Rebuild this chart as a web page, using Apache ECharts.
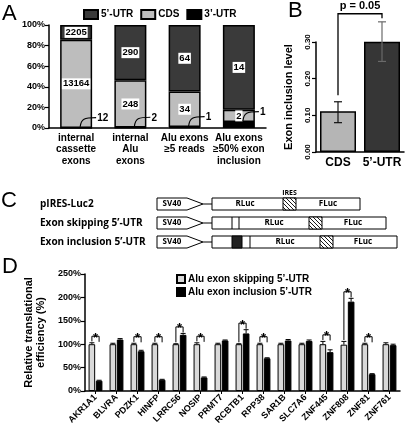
<!DOCTYPE html>
<html><head><meta charset="utf-8">
<script src="https://cdn.jsdelivr.net/npm/echarts@6/dist/echarts.min.js"></script>
<style>html,body{margin:0;padding:0;background:#fff}#c{width:408px;height:430px}</style>
</head><body><div id="c"></div>
<script>
// ---------- Panel A data ----------
const aCategories = ['internal\ncassette\nexons', 'internal\nAlu\nexons', 'Alu exons\n\u22655 reads', 'Alu exons\n\u226550% exon\ninclusion'];
const aUtr5 = [2205, 290, 64, 14];
const aCds = [13164, 248, 34, 2];
const aUtr3 = [12, 2, 1, 1];

// ---------- Panel B data ----------
const bCategories = ['CDS', "5\u2019-UTR"];
const bValues = [0.111, 0.301];
const bErrLow = [0.080, 0.247];
const bErrHigh = [0.137, 0.355];
const bPLabel = 'p = 0.05';

// ---------- Panel D data ----------
const dGenes = ['AKR1A1','BLVRA','PDZK1','HINFP','LRRC56','NOSIP','PRMT7','RCBTB1','RPP38','SAR1B','SLC7A6','ZNF445','ZNF808','ZNF81','ZNF761'];
const dSkip = [100,100,100,100,100,100,100,100,100,100,100,100,99,100,100];
const dSkipErr = [3,2,2,2,1,3,2,1,2,2,2,6,7,2,3];
const dIncl = [22,110,85,24,120,29,108,123,70,108,107,83,191,36,98];
const dInclErr = [1,2,2,1,3,1,1,8,1,2,2,5,7,1,2];
const dSig = [1,0,1,1,1,1,0,1,1,0,0,1,1,1,0];

// ---------- derived ----------
const aTotal = aUtr5.map((v, i) => v + aCds[i] + aUtr3[i]);
const pct = arr => arr.map((v, i) => v / aTotal[i] * 100);
const aP5 = pct(aUtr5), aPC = pct(aCds), aP3 = pct(aUtr3);

const FONT = '"Liberation Sans", Arial, sans-serif';
const BLACK = '#000';
const D_OFF = 3.6;

const lblBox = {
  show: true, position: 'inside', color: '#000', fontWeight: 'bold', fontSize: 9.5,
  fontFamily: FONT, backgroundColor: '#fff', padding: [1, 1, 0, 1]
};

// hatch pattern
const hatch = document.createElement('canvas');
hatch.width = 4; hatch.height = 4;
(function () {
  const g = hatch.getContext('2d');
  g.fillStyle = '#fff'; g.fillRect(0, 0, 4, 4);
  g.strokeStyle = '#000'; g.lineWidth = 0.9;
  g.beginPath();
  g.moveTo(-1, -1); g.lineTo(5, 5);
  g.moveTo(-1, 3); g.lineTo(1, 5);
  g.moveTo(3, -1); g.lineTo(5, 1);
  g.stroke();
})();

// ---------- Panel C schematic (graphic) ----------
const cFont = 'bold 10px "Open Sans", sans-serif';
function sv40(r) {
  return [
    { type: 'polygon', shape: { points: [[157, r - 6], [187, r - 6], [203, r], [187, r + 6], [157, r + 6]] },
      style: { fill: '#fff', stroke: '#000', lineWidth: 1 } },
    { type: 'text', style: { text: 'SV40', x: 172, y: r, align: 'center', verticalAlign: 'middle', font: 'bold 8px "Open Sans", sans-serif', fill: '#000' } },
    { type: 'line', shape: { x1: 203, y1: r, x2: 212, y2: r }, style: { stroke: '#000', lineWidth: 1 } }
  ];
}
function box(r, x1, x2) {
  return { type: 'rect', shape: { x: x1, y: r - 6, width: x2 - x1, height: 12 }, style: { fill: '#fff', stroke: '#000', lineWidth: 1 } };
}
function vline(r, x) {
  return { type: 'line', shape: { x1: x, y1: r - 6, x2: x, y2: r + 6 }, style: { stroke: '#000', lineWidth: 1 } };
}
function hat(r, x1, x2) {
  return { type: 'rect', shape: { x: x1, y: r - 6, width: x2 - x1, height: 12 }, style: { fill: { image: hatch, repeat: 'repeat' }, stroke: '#000', lineWidth: 1 } };
}
function lbl(r, x, t) {
  return { type: 'text', style: { text: t, x: x, y: r, align: 'center', verticalAlign: 'middle', font: 'bold 8px "Open Sans", sans-serif', fill: '#000' } };
}
function rowText(r, t) {
  return { type: 'text', style: { text: t, x: 40, y: r, align: 'left', verticalAlign: 'middle', font: cFont, fill: '#000' } };
}
const r1 = 204, r2 = 223, r3 = 242;
const cGraphic = [].concat(
  rowText(r1, 'pIRES-Luc2'), rowText(r2, 'Exon skipping 5\u2019-UTR'), rowText(r3, 'Exon inclusion 5\u2019-UTR'),
  sv40(r1), sv40(r2), sv40(r3),
  box(r1, 212, 360), hat(r1, 283, 296), lbl(r1, 245, 'RLuc'), lbl(r1, 328, 'FLuc'),
  { type: 'text', style: { text: 'IRES', x: 289.5, y: 196, align: 'center', verticalAlign: 'bottom', font: 'bold 7px "Open Sans", sans-serif', fill: '#000' } },
  box(r2, 212, 386), vline(r2, 232), vline(r2, 239), hat(r2, 309, 322), lbl(r2, 274, 'RLuc'), lbl(r2, 353, 'FLuc'),
  box(r3, 212, 397), { type: 'rect', shape: { x: 232, y: r3 - 6, width: 10, height: 12 }, style: { fill: '#222', stroke: '#000', lineWidth: 1 } },
  vline(r3, 250), hat(r3, 320, 333), lbl(r3, 285, 'RLuc'), lbl(r3, 363, 'FLuc')
);
const letters = [['A', 2, 3], ['B', 288, 0], ['C', 1, 190], ['D', 2, 256]].map(([t, x, y]) => ({
  type: 'text', style: { text: t, x: x, y: y, font: '22px "Liberation Sans", Arial, sans-serif', fill: '#000' }
}));

// ---------- Render helpers ----------
function aCallout(params, api) {
  const i = api.value(0), p = api.value(1);
  const s = api.coord([i, p]);
  const e = api.coord([i, p + 10]);
  const x0 = s[0] + 4, y0 = s[1] - 1, x1 = s[0] + 20, y1 = e[1];
  return { type: 'group', children: [
    { type: 'bezierCurve', shape: { x1: x0, y1: y0, x2: x1, y2: y1, cpx1: x0 + 1, cpy1: y1 + 1, cpx2: x0 + 4, cpy2: y1 },
      style: { stroke: '#000', lineWidth: 1.1, fill: null } },
    { type: 'text', style: { text: String(api.value(2)), x: x1 + 1, y: y1 + 0.5, verticalAlign: 'middle', font: 'bold 10px ' + FONT, fill: '#000' } }
  ] };
}
function bErr(params, api) {
  const i = api.value(0);
  const lo = api.coord([i, api.value(1)]), hi = api.coord([i, api.value(2)]);
  const x = lo[0], c = i === 0 ? '#111' : '#6a6a6a';
  return { type: 'group', children: [
    { type: 'line', shape: { x1: x, y1: lo[1], x2: x, y2: hi[1] }, style: { stroke: c, lineWidth: 1.2 } },
    { type: 'line', shape: { x1: x - 4, y1: lo[1], x2: x + 4, y2: lo[1] }, style: { stroke: c, lineWidth: 1.2 } },
    { type: 'line', shape: { x1: x - 4, y1: hi[1], x2: x + 4, y2: hi[1] }, style: { stroke: c, lineWidth: 1.2 } }
  ] };
}
function bBracket(params, api) {
  const top = Math.max(bErrHigh[0], bErrHigh[1]) + 0.022;
  const l = api.coord([0, bErrHigh[0] + 0.018]), r = api.coord([1, bErrHigh[1] + 0.01]);
  const t = api.coord([0, top])[1];
  return { type: 'group', children: [
    { type: 'polyline', shape: { points: [[l[0], l[1]], [l[0], t], [r[0], t], [r[0], r[1]]] }, style: { stroke: '#000', lineWidth: 1.3, fill: null } },
    { type: 'text', style: { text: bPLabel, x: (l[0] + r[0]) / 2, y: t - 2, align: 'center', verticalAlign: 'bottom', font: 'bold 11px ' + FONT, fill: '#000' } }
  ] };
}
function dErr(params, api) {
  const i = api.value(0), v = api.value(1), e = api.value(2), side = api.value(3);
  const b = api.coord([i, v]), t = api.coord([i, v + e]);
  const x = b[0] + side * D_OFF;
  return { type: 'group', children: [
    { type: 'line', shape: { x1: x, y1: b[1], x2: x, y2: t[1] }, style: { stroke: '#000', lineWidth: 1 } },
    { type: 'line', shape: { x1: x - 2.5, y1: t[1], x2: x + 2.5, y2: t[1] }, style: { stroke: '#000', lineWidth: 1 } }
  ] };
}
function dBracket(params, api) {
  const i = api.value(0), g = api.value(1), b = api.value(2);
  const top = Math.max(g, b) + 14;
  const xc = api.coord([i, 0])[0];
  const xl = xc - D_OFF, xr = xc + D_OFF;
  const yT = api.coord([i, top])[1], yL = api.coord([i, g + 3])[1], yR = api.coord([i, top - 12])[1];
  return { type: 'group', children: [
    { type: 'polyline', shape: { points: [[xl, yL], [xl, yT], [xr, yT], [xr, yR]] }, style: { stroke: '#000', lineWidth: 1, fill: null } },
    { type: 'text', style: { text: '*', x: xc, y: yT + 2, align: 'center', verticalAlign: 'middle', font: 'bold 13px ' + FONT, fill: '#000' } }
  ] };
}

const axisLine = { show: true, lineStyle: { color: BLACK, width: 1.5 } };
const tickStyle = { show: true, length: 4, lineStyle: { color: BLACK, width: 1.2 } };

const option = {
  animation: false,
  backgroundColor: '#fff',
  textStyle: { fontFamily: FONT },
  graphic: letters.concat(cGraphic),
  legend: [
    { data: ["5\u2019-UTR", 'CDS', "3\u2019-UTR"], left: 83, top: 9, itemWidth: 14, itemHeight: 9, itemGap: 7,
      icon: 'rect', selectedMode: false, padding: 0,
      textStyle: { fontSize: 10, fontWeight: 'bold', color: '#000', padding: [0, 0, 0, -2] } },
    { data: ["Alu exon skipping 5\u2019-UTR", "Alu exon inclusion 5\u2019-UTR"], left: 176, top: 274, orient: 'vertical',
      itemWidth: 8, itemHeight: 8, itemGap: 3, icon: 'rect', selectedMode: false, padding: 0,
      textStyle: { fontSize: 10, fontWeight: 'bold', color: '#000', padding: [0, 0, 0, -2] } }
  ],
  grid: [
    { left: 49, top: 25, width: 217, height: 103 },
    { left: 316, top: 42, width: 88, height: 110 },
    { left: 85, top: 274, width: 315, height: 117 }
  ],
  xAxis: [
    { type: 'category', gridIndex: 0, data: aCategories, axisLine: axisLine, axisTick: { show: false },
      axisLabel: { color: '#000', fontSize: 10, fontWeight: 'bold', lineHeight: 11.5, margin: 4, interval: 0 } },
    { type: 'category', gridIndex: 1, data: bCategories, axisLine: axisLine, axisTick: { show: false },
      axisLabel: { color: '#000', fontSize: 12, fontWeight: 'bold', margin: 5, interval: 0, hideOverlap: false } },
    { type: 'category', gridIndex: 2, data: dGenes, axisLine: axisLine,
      axisTick: { show: true, alignWithLabel: true, length: 3, lineStyle: { color: BLACK } },
      axisLabel: { color: '#000', fontSize: 9, fontWeight: 'bold', rotate: 45, margin: 5, interval: 0 } }
  ],
  yAxis: [
    { type: 'value', gridIndex: 0, min: 0, max: 100, interval: 20, axisLine: axisLine, axisTick: tickStyle, splitLine: { show: false },
      axisLabel: { color: '#000', fontSize: 9, fontWeight: 'bold', margin: 4, formatter: '{value}%' } },
    { type: 'value', gridIndex: 1, min: 0, max: 0.3, interval: 0.1, axisLine: axisLine, axisTick: tickStyle, splitLine: { show: false },
      axisLabel: { color: '#000', fontSize: 8, fontWeight: 'bold', margin: 4, rotate: 90, formatter: v => v.toFixed(2) },
      name: 'Exon inclusion level', nameLocation: 'middle', nameGap: 22,
      nameTextStyle: { color: '#000', fontSize: 11, fontWeight: 'bold' } },
    { type: 'value', gridIndex: 2, min: 0, max: 250, interval: 50, axisLine: axisLine, axisTick: tickStyle, splitLine: { show: false },
      axisLabel: { color: '#000', fontSize: 9, fontWeight: 'bold', margin: 4, formatter: '{value}%' },
      name: 'Relative translational\nefficiency (%)', nameLocation: 'middle', nameGap: 38,
      nameTextStyle: { color: '#000', fontSize: 11, fontWeight: 'bold', lineHeight: 12 } }
  ],
  series: [
    { name: "3\u2019-UTR", type: 'bar', stack: 'A', xAxisIndex: 0, yAxisIndex: 0, barWidth: 32, data: aP3,
      itemStyle: { color: '#000', borderColor: '#000', borderWidth: 1.5 } },
    { name: 'CDS', type: 'bar', stack: 'A', xAxisIndex: 0, yAxisIndex: 0, barWidth: 32, data: aPC,
      itemStyle: { color: '#bdbdbd', borderColor: '#000', borderWidth: 1.5 },
      label: Object.assign({}, lblBox, { formatter: p => String(aCds[p.dataIndex]) }) },
    { name: "5\u2019-UTR", type: 'bar', stack: 'A', xAxisIndex: 0, yAxisIndex: 0, barWidth: 32, data: aP5,
      itemStyle: { color: '#3a3a3a', borderColor: '#000', borderWidth: 1.5 },
      label: Object.assign({}, lblBox, { formatter: p => String(aUtr5[p.dataIndex]) }) },
    { type: 'custom', xAxisIndex: 0, yAxisIndex: 0, renderItem: aCallout, encode: { x: 0, y: 1 },
      data: aP3.map((p, i) => [i, p, aUtr3[i]]), z: 5 },

    { name: 'B', type: 'bar', xAxisIndex: 1, yAxisIndex: 1, barWidth: 36,
      data: bValues.map((v, i) => ({ value: v, itemStyle: { color: i === 0 ? '#b5b5b5' : '#363636' } })),
      itemStyle: { borderColor: '#000', borderWidth: 1.5 } },
    { type: 'custom', xAxisIndex: 1, yAxisIndex: 1, renderItem: bErr, encode: { x: 0, y: [1, 2] },
      data: bValues.map((v, i) => [i, bErrLow[i], bErrHigh[i]]), z: 5 },
    { type: 'custom', xAxisIndex: 1, yAxisIndex: 1, renderItem: bBracket, encode: { x: 0, y: 1 },
      data: [[0, 0]], z: 5 },

    { name: "Alu exon skipping 5\u2019-UTR", type: 'bar', xAxisIndex: 2, yAxisIndex: 2, barWidth: 6.6, barGap: '10%', data: dSkip,
      itemStyle: { color: '#d9d9d9', borderColor: '#000', borderWidth: 1 } },
    { name: "Alu exon inclusion 5\u2019-UTR", type: 'bar', xAxisIndex: 2, yAxisIndex: 2, barWidth: 6.6, barGap: '10%', data: dIncl,
      itemStyle: { color: '#000', borderColor: '#000', borderWidth: 1 } },
    { type: 'custom', xAxisIndex: 2, yAxisIndex: 2, renderItem: dErr, encode: { x: 0, y: 1 }, z: 5,
      data: dGenes.map((g, i) => [i, dSkip[i], dSkipErr[i], -1]).concat(dGenes.map((g, i) => [i, dIncl[i], dInclErr[i], 1])) },
    { type: 'custom', xAxisIndex: 2, yAxisIndex: 2, renderItem: dBracket, encode: { x: 0, y: 1 }, z: 5,
      data: dGenes.map((g, i) => [i, dSkip[i] + dSkipErr[i], dIncl[i] + dInclErr[i], dSig[i]]).filter(d => d[3]) }
  ]
};
const chart = echarts.init(document.getElementById('c'), null, { renderer: 'canvas', width: 408, height: 430 });
chart.setOption(option);
</script>
</body></html>
